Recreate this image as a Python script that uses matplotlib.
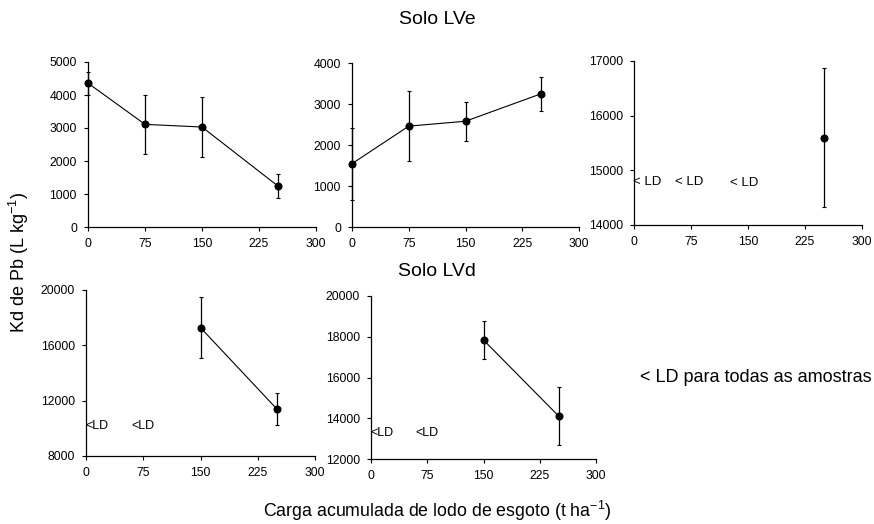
import matplotlib.pyplot as plt

plt.rcParams['font.family'] = ['Liberation Sans', 'DejaVu Sans']

doses = [0, 75, 150, 250]
xticks = [0, 75, 150, 225, 300]

# Solo LVe
lve_a = [4360, 3110, 3030, 1240]
lve_a_err = [345, 885, 900, 355]
lve_b = [1545, 2460, 2580, 3250]
lve_b_err = [880, 850, 475, 420]
lve_c_x = [250]
lve_c = [15600]
lve_c_err = [1265]

# Solo LVd
lvd_x = [150, 250]
lvd_a = [17280, 11400]
lvd_a_err = [2230, 1145]
lvd_b = [17840, 14115]
lvd_b_err = [945, 1420]

W, H = 874, 524
fig = plt.figure(figsize=(W / 100, H / 100), dpi=100)


def make_ax(l, r, t, b):
    return fig.add_axes([l / W, 1 - b / H, (r - l) / W, (b - t) / H])


def style(ax, ylim, yticks):
    ax.set_xlim(0, 300)
    ax.set_ylim(*ylim)
    ax.set_xticks(xticks)
    ax.set_yticks(yticks)
    ax.spines['top'].set_visible(False)
    ax.spines['right'].set_visible(False)
    for s in ('left', 'bottom'):
        ax.spines[s].set_linewidth(0.9)
    ax.tick_params(labelsize=8.7, length=3, width=0.8, direction='out', pad=5)
    ax.patch.set_alpha(0)


def draw(ax, x, y, e):
    ax.errorbar(x, y, yerr=e, color='black', lw=0.8, marker='o', ms=4.8,
                elinewidth=0.9, capsize=1.6, capthick=0.8, clip_on=False)


ax1 = make_ax(88, 316, 62, 227)
style(ax1, (0, 5000), range(0, 5001, 1000))
draw(ax1, doses, lve_a, lve_a_err)

ax2 = make_ax(352, 579, 63, 227)
style(ax2, (0, 4000), range(0, 4001, 1000))
draw(ax2, doses, lve_b, lve_b_err)

ax3 = make_ax(634, 862, 61, 225)
style(ax3, (14000, 17000), range(14000, 17001, 1000))
draw(ax3, lve_c_x, lve_c, lve_c_err)
for xl, yl in [(-1, 14790), (54, 14790), (126, 14760)]:
    ax3.text(xl, yl, '< LD', fontsize=9.5, va='center', ha='left')

ax4 = make_ax(86, 315, 290, 456)
style(ax4, (8000, 20000), range(8000, 20001, 4000))
draw(ax4, lvd_x, lvd_a, lvd_a_err)
for xl in [-1, 60]:
    ax4.text(xl, 10200, '<LD', fontsize=9, va='center', ha='left')

ax5 = make_ax(371, 596, 296, 459)
style(ax5, (12000, 20000), range(12000, 20001, 2000))
draw(ax5, lvd_x, lvd_b, lvd_b_err)
for xl in [-1, 59]:
    ax5.text(xl, 13260, '<LD', fontsize=9, va='center', ha='left')

fig.text(437 / W, 1 - 20 / H, 'Solo LVe', fontsize=14, ha='center', va='center')
fig.text(437 / W, 1 - 271 / H, 'Solo LVd', fontsize=14, ha='center', va='center')
fig.text(756 / W, 1 - 378 / H, '< LD para todas as amostras', fontsize=13,
         ha='center', va='center')
fig.text(19 / W, 1 - 262 / H, r'Kd de Pb (L kg$^{\mathregular{-1}}$)', fontsize=13,
         rotation=90, ha='center', va='center')
fig.text(437 / W, 1 - 511 / H,
         r'Carga acumulada de lodo de esgoto (t ha$^{\mathregular{-1}}$)',
         fontsize=12.8, ha='center', va='center')

fig.savefig('out.png', dpi=100)
